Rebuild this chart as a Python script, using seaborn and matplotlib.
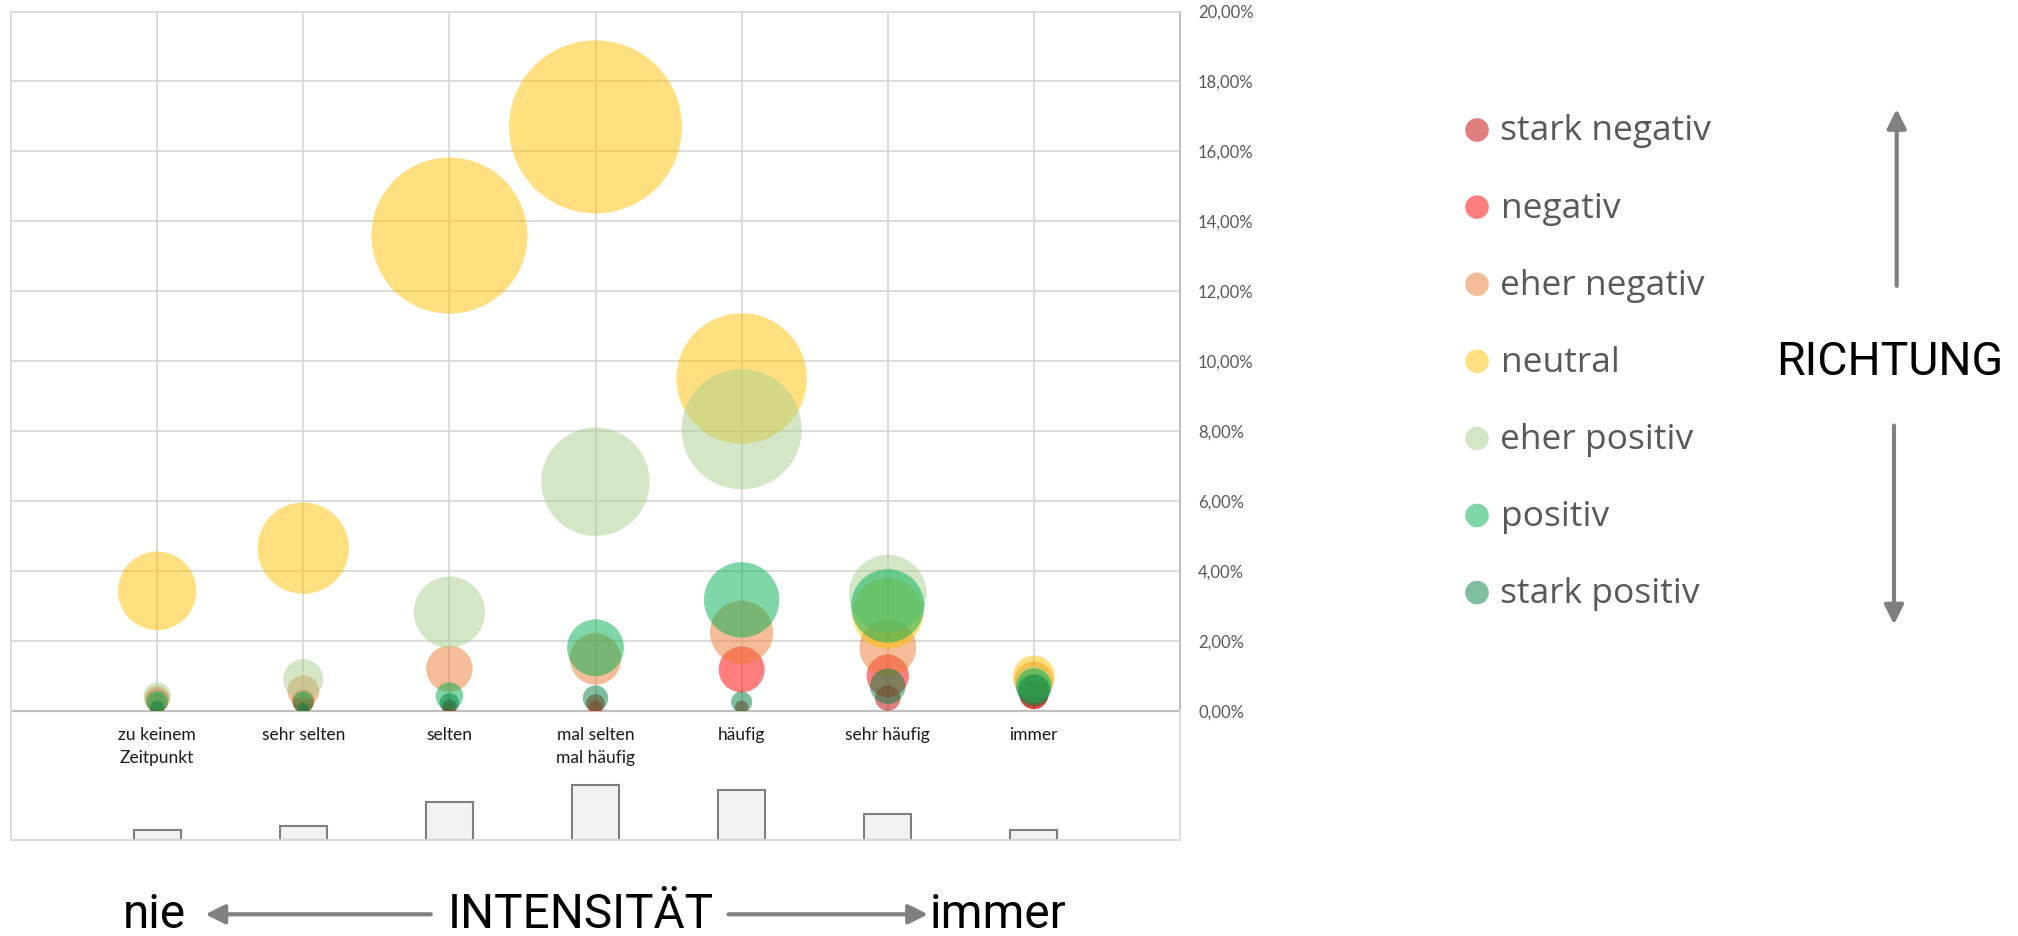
import numpy as np
import pandas as pd
import matplotlib
matplotlib.use("Agg")
import matplotlib.pyplot as plt
import seaborn as sns
from matplotlib.ticker import FuncFormatter

# Frequency categories (x) and direction series (bubble colour)
categories = ["zu keinem\nZeitpunkt", "sehr selten", "selten", "mal selten\nmal häufig",
              "häufig", "sehr häufig", "immer"]
series = ["stark negativ", "negativ", "eher negativ", "neutral",
          "eher positiv", "positiv", "stark positiv"]
series_colors = ["#C00000", "#FF0000", "#ED7D31", "#FFC000", "#A9D08E", "#00B050", "#008040"]

# Share of answers in percent, one list per direction, ordered like `categories`
stark_negativ = [0.30, 0.20, 0.12, 0.20, 0.10, 0.36, 0.45]
negativ       = [0.20, 0.28, 0.08, 0.10, 1.18, 1.00, 0.46]
eher_negativ  = [0.35, 0.56, 1.20, 1.48, 2.24, 1.80, 0.85]
neutral       = [3.43, 4.65, 13.59, 16.70, 9.50, 2.78, 0.98]
eher_positiv  = [0.42, 0.90, 2.82, 6.55, 8.05, 3.35, 0.75]
positiv       = [0.25, 0.25, 0.42, 1.80, 3.17, 3.00, 0.70]
stark_positiv = [0.10, 0.07, 0.22, 0.36, 0.25, 0.70, 0.58]

y_ticks = [0, 2, 4, 6, 8, 10, 12, 14, 16, 18, 20]

values = [stark_negativ, negativ, eher_negativ, neutral, eher_positiv, positiv, stark_positiv]
df = pd.DataFrame(
    [(cat, s, v) for s, vals in zip(series, values) for cat, v in zip(categories, vals)],
    columns=["Kategorie", "Richtung", "Anteil"],
)
totals = df.groupby("Kategorie", sort=False)["Anteil"].sum().reindex(categories)

sns.set_theme(style="white")
plt.rcParams["font.family"] = ["Lato", "DejaVu Sans"]

W, H = 2018, 936
fig = plt.figure(figsize=(W / 100, H / 100), dpi=100)


def px_axes(x0, y0, x1, y1):
    return fig.add_axes([x0 / W, 1 - y1 / H, (x1 - x0) / W, (y1 - y0) / H])


def fpos(x, y):
    return (x / W, 1 - y / H)


palette = dict(zip(series, series_colors))
grid_col = "#D9D9D9"

# ---- bubble chart -------------------------------------------------------
ax = px_axes(11, 11.5, 1180, 710.7)
vmax = df["Anteil"].max()
area_per_pct = 929.0  # points^2 per percent, bubble area proportional to share
sns.scatterplot(
    data=df, x="Kategorie", y="Anteil", hue="Richtung", hue_order=series,
    palette=palette, size="Anteil", sizes=(0, area_per_pct * vmax), size_norm=(0, vmax),
    alpha=0.5, linewidth=0, edgecolor="none", legend=False, ax=ax, zorder=3,
)
ax.set_xlim(-1, len(categories))
ax.set_ylim(y_ticks[0], y_ticks[-1])
ax.set_yticks(y_ticks)
ax.yaxis.set_major_formatter(FuncFormatter(lambda v, _: f"{v:.2f}%".replace(".", ",")))
ax.yaxis.tick_right()
ax.set_xlabel("")
ax.set_ylabel("")
ax.grid(True, color=grid_col, linewidth=1.3)
ax.set_axisbelow(True)
ax.tick_params(axis="y", length=0, pad=13, labelsize=12, labelcolor="#595959")
ax.tick_params(axis="x", length=0, pad=12, labelsize=12.5, labelcolor="#1A1A1A")
for lab in ax.get_xticklabels():
    lab.set_linespacing(1.5)
for side in ["left", "top"]:
    ax.spines[side].set_color(grid_col)
    ax.spines[side].set_linewidth(1.3)
for side in ["right", "bottom"]:
    ax.spines[side].set_color("#BFBFBF")
    ax.spines[side].set_linewidth(1.5)

# ---- totals per category ------------------------------------------------
axb = px_axes(11, 710.7, 1180, 840)
sns.barplot(x=categories, y=totals.values, order=categories, color="#F2F2F2",
            saturation=1, edgecolor="#7F7F7F", linewidth=1.5, width=0.32,
            errorbar=None, ax=axb)
axb.set_xlim(-1, len(categories))
axb.set_ylim(0, 63.5)
axb.set_xticks([])
axb.set_yticks([])
axb.set_xlabel("")
axb.set_ylabel("")
axb.set_facecolor("none")
axb.spines["top"].set_visible(False)
for side in ["left", "right", "bottom"]:
    axb.spines[side].set_color(grid_col)
    axb.spines[side].set_linewidth(1.3)

# ---- legend -------------------------------------------------------------
axl = px_axes(1465, 91.45, 1765, 631.15)
axl.set_xlim(0, 300)
axl.set_ylim(len(series) - 0.5, -0.5)
axl.axis("off")
sns.scatterplot(x=[12] * len(series), y=list(range(len(series))), hue=series,
                hue_order=series, palette=palette, s=289, alpha=0.5, linewidth=0,
                legend=False, ax=axl)
for i, name in enumerate(series):
    axl.text(35.5, i + 0.135, name, va="baseline", ha="left", color="#595959",
             fontsize=25.5, family=["Open Sans", "DejaVu Sans"])

# ---- axis captions and arrows -------------------------------------------
cap_font = dict(family=["Roboto", "DejaVu Sans"], color="black", va="baseline")
fig.text(*fpos(1889.8, 374.6), "RICHTUNG", ha="center", fontsize=33.4, **cap_font)
fig.text(*fpos(581, 928), "INTENSITÄT", ha="center", fontsize=34.4, **cap_font)
fig.text(*fpos(154, 928), "nie", ha="center", fontsize=34.4, **cap_font)
fig.text(*fpos(930, 928), "immer", ha="left", fontsize=34.4, **cap_font)

arrow_kw = dict(arrowstyle="-|>,head_length=0.4,head_width=0.2", color="#808080",
                lw=3, mutation_scale=29, shrinkA=0, shrinkB=0)
for tail, tip in [((430.8, 914.3), (205.4, 914.3)),
                  ((728.6, 914.3), (928, 914.3)),
                  ((1896.7, 285.8), (1896.7, 109)),
                  ((1894, 425.5), (1894, 624.5))]:
    ax.annotate("", xy=fpos(*tip), xytext=fpos(*tail), xycoords="figure fraction",
                textcoords="figure fraction", arrowprops=arrow_kw, annotation_clip=False)

fig.savefig("out.png", dpi=100)
